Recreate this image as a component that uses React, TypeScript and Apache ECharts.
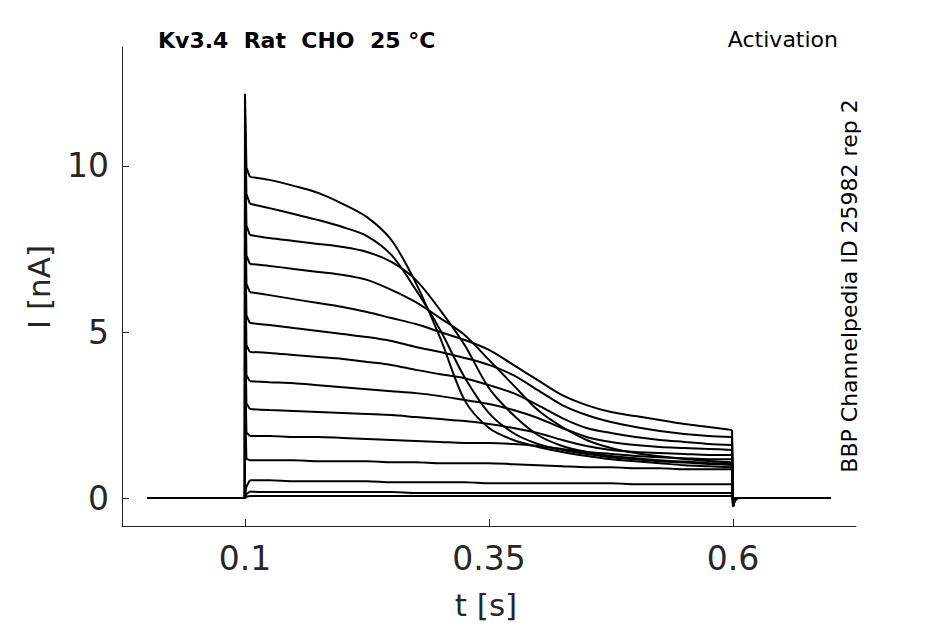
import React, { useEffect, useRef } from "react";
import * as echarts from "echarts";

// sample times (s) during the voltage step
const T = [0.105, 0.125, 0.15, 0.175, 0.2, 0.225, 0.25, 0.275, 0.3, 0.325, 0.35, 0.375, 0.4, 0.425, 0.45, 0.475, 0.5, 0.525, 0.55, 0.575, 0.599];

// current traces (nA), one per voltage step
const TR_A = [9.67, 9.58, 9.40, 9.19, 8.86, 8.46, 7.77, 6.48, 4.82, 2.95, 2.11, 1.75, 1.54, 1.39, 1.27, 1.17, 1.11, 1.05, 0.99, 0.96, 0.93];
const TR_B = [8.86, 8.73, 8.55, 8.37, 8.16, 7.89, 7.32, 6.27, 5.06, 3.64, 2.56, 1.96, 1.63, 1.45, 1.33, 1.23, 1.17, 1.11, 1.07, 1.03, 1.00];
const TR_C = [7.92, 7.83, 7.74, 7.65, 7.56, 7.41, 7.11, 6.57, 5.66, 4.61, 3.31, 2.50, 1.90, 1.57, 1.39, 1.27, 1.20, 1.14, 1.10, 1.06, 1.03];
const TR_D = [7.05, 6.99, 6.90, 6.81, 6.72, 6.57, 6.27, 5.90, 5.42, 4.91, 4.16, 3.40, 2.65, 2.14, 1.75, 1.51, 1.36, 1.26, 1.18, 1.12, 1.08];
const TR_E = [6.20, 6.11, 5.99, 5.87, 5.75, 5.60, 5.42, 5.24, 5.00, 4.76, 4.46, 4.01, 3.55, 3.10, 2.80, 2.59, 2.47, 2.35, 2.23, 2.14, 2.05];
const TR_F = [5.27, 5.21, 5.12, 5.03, 4.94, 4.85, 4.73, 4.55, 4.40, 4.22, 4.01, 3.70, 3.25, 2.80, 2.50, 2.29, 2.14, 2.02, 1.93, 1.87, 1.84];
const TR_G = [4.40, 4.37, 4.31, 4.25, 4.19, 4.10, 4.01, 3.86, 3.73, 3.61, 3.40, 3.16, 2.80, 2.41, 2.11, 1.96, 1.84, 1.75, 1.69, 1.63, 1.60];
const TR_H = [3.52, 3.49, 3.46, 3.40, 3.34, 3.28, 3.22, 3.16, 3.07, 2.95, 2.83, 2.65, 2.41, 2.11, 1.84, 1.69, 1.60, 1.54, 1.51, 1.48, 1.45];
const TR_I = [2.68, 2.65, 2.62, 2.59, 2.56, 2.53, 2.50, 2.44, 2.38, 2.32, 2.23, 2.11, 1.96, 1.75, 1.57, 1.45, 1.39, 1.36, 1.33, 1.30, 1.30];
const TR_J = [1.87, 1.87, 1.84, 1.84, 1.81, 1.78, 1.75, 1.72, 1.69, 1.66, 1.66, 1.63, 1.57, 1.48, 1.39, 1.33, 1.27, 1.23, 1.20, 1.17, 1.17];
const TR_K = [1.14, 1.14, 1.14, 1.11, 1.11, 1.11, 1.08, 1.08, 1.05, 1.05, 1.05, 1.02, 0.99, 0.96, 0.93, 0.93, 0.90, 0.90, 0.87, 0.87, 0.87];
const TR_L = [0.54, 0.54, 0.51, 0.51, 0.51, 0.51, 0.48, 0.48, 0.48, 0.48, 0.45, 0.45, 0.45, 0.45, 0.45, 0.45, 0.42, 0.42, 0.42, 0.42, 0.42];
const TR_M = [0.20, 0.18, 0.18, 0.18, 0.18, 0.18, 0.18, 0.15, 0.15, 0.15, 0.15, 0.15, 0.15, 0.15, 0.15, 0.15, 0.15, 0.15, 0.15, 0.15, 0.15];
const TR_N = [0.06, 0.06, 0.06, 0.06, 0.06, 0.06, 0.06, 0.06, 0.06, 0.06, 0.06, 0.06, 0.06, 0.06, 0.06, 0.06, 0.06, 0.06, 0.06, 0.06, 0.06];
const TRACES = [TR_A, TR_B, TR_C, TR_D, TR_E, TR_F, TR_G, TR_H, TR_I, TR_J, TR_K, TR_L, TR_M, TR_N];

// capacitive transient at step onset (t = 0.1 s), early value, and tail dip at 0.6 s
const SPIKE = [12.17, 11.6, 11.0, 10.3, 9.5, 8.6, 7.6, 6.5, 5.3, 4.1, 2.9, 0.05, 0.03, 0.01];
const ONSET = [9.95, 9.15, 8.2, 7.3, 6.45, 5.5, 4.6, 3.7, 2.85, 1.98, 1.18, 0.35, 0.12, 0.04];
const DIP = [-0.25, -0.25, -0.25, -0.25, -0.25, -0.25, -0.22, -0.2, -0.18, -0.15, -0.12, -0.08, -0.05, -0.02];

const X_TICKS = [0.1, 0.35, 0.6];
const Y_TICKS = [0, 5, 10];

const AXIS_COLOR = "#262626";
const FONT = "DejaVu Sans";

function onsetPart(i: number): number[][] {
  return [[0, 0], [0.0999, 0], [0.1, SPIKE[i]], [0.1015, ONSET[i]], [T[0], TRACES[i][0]]];
}
function bodyPart(i: number): number[][] {
  return T.map((t, k) => [t, TRACES[i][k]]);
}
function offsetPart(i: number): number[][] {
  const last = TRACES[i][TRACES[i].length - 1];
  return [[T[T.length - 1], last], [0.6, DIP[i]], [0.602, DIP[i] * 0.2], [0.605, 0], [0.7, 0]];
}

export default function App() {
  const ref = useRef<HTMLDivElement>(null);
  useEffect(() => {
    if (!ref.current) return;
    const chart = echarts.init(ref.current, undefined, { renderer: "svg" });
    const lineStyle = { color: "#000", width: 2 };
    const series: any[] = [];
    TRACES.forEach((_, i) => {
      series.push({ type: "line", data: onsetPart(i), showSymbol: false, symbol: "none", silent: true, lineStyle });
      series.push({ type: "line", data: bodyPart(i), showSymbol: false, symbol: "none", silent: true, smooth: 0.3, lineStyle });
      series.push({ type: "line", data: offsetPart(i), showSymbol: false, symbol: "none", silent: true, lineStyle });
    });
    chart.setOption({
      animation: false,
      backgroundColor: "#fff",
      grid: { left: 122, top: 47, right: 89, bottom: 98, containLabel: false },
      xAxis: {
        type: "value",
        min: -0.026,
        max: 0.726,
        axisLine: { show: true, onZero: false, lineStyle: { color: AXIS_COLOR, width: 1 } },
        axisTick: { show: true, inside: true, length: 7, customValues: X_TICKS, lineStyle: { color: AXIS_COLOR } },
        axisLabel: {
          show: true,
          customValues: X_TICKS,
          margin: 16,
          color: AXIS_COLOR,
          fontSize: 33,
          fontFamily: FONT,
          formatter: (v: number) => String(v),
        },
        splitLine: { show: false },
      },
      yAxis: {
        type: "value",
        min: -0.84,
        max: 13.58,
        axisLine: { show: true, onZero: false, lineStyle: { color: AXIS_COLOR, width: 1 } },
        axisTick: { show: true, inside: true, length: 7, customValues: Y_TICKS, lineStyle: { color: AXIS_COLOR } },
        axisLabel: {
          show: true,
          customValues: Y_TICKS,
          margin: 13,
          color: AXIS_COLOR,
          fontSize: 33,
          fontFamily: FONT,
          formatter: (v: number) => String(v),
        },
        splitLine: { show: false },
      },
      graphic: [
        {
          type: "text",
          x: 486,
          y: 605,
          style: { text: "t [s]", fill: AXIS_COLOR, font: `31px "${FONT}"`, textAlign: "center", textVerticalAlign: "middle" },
        },
        {
          type: "text",
          x: 39,
          y: 287,
          rotation: Math.PI / 2,
          style: { text: "I [nA]", fill: AXIS_COLOR, font: `31px "${FONT}"`, textAlign: "center", textVerticalAlign: "middle" },
        },
        {
          type: "text",
          x: 158,
          y: 40,
          style: { text: "Kv3.4  Rat  CHO  25 °C", fill: "#000", font: `bold 22px "${FONT}"`, textAlign: "left", textVerticalAlign: "middle" },
        },
        {
          type: "text",
          x: 838,
          y: 39,
          style: { text: "Activation", fill: "#000", font: `22px "${FONT}"`, textAlign: "right", textVerticalAlign: "middle" },
        },
        {
          type: "text",
          x: 849,
          y: 286,
          rotation: Math.PI / 2,
          style: { text: "BBP Channelpedia ID 25982 rep 2", fill: "#000", font: `22px "${FONT}"`, textAlign: "center", textVerticalAlign: "middle" },
        },
      ],
      series,
    });
    return () => chart.dispose();
  }, []);
  return <div ref={ref} style={{ position: "fixed", left: 0, top: 0, width: 945, height: 624, background: "#fff" }} />;
}
